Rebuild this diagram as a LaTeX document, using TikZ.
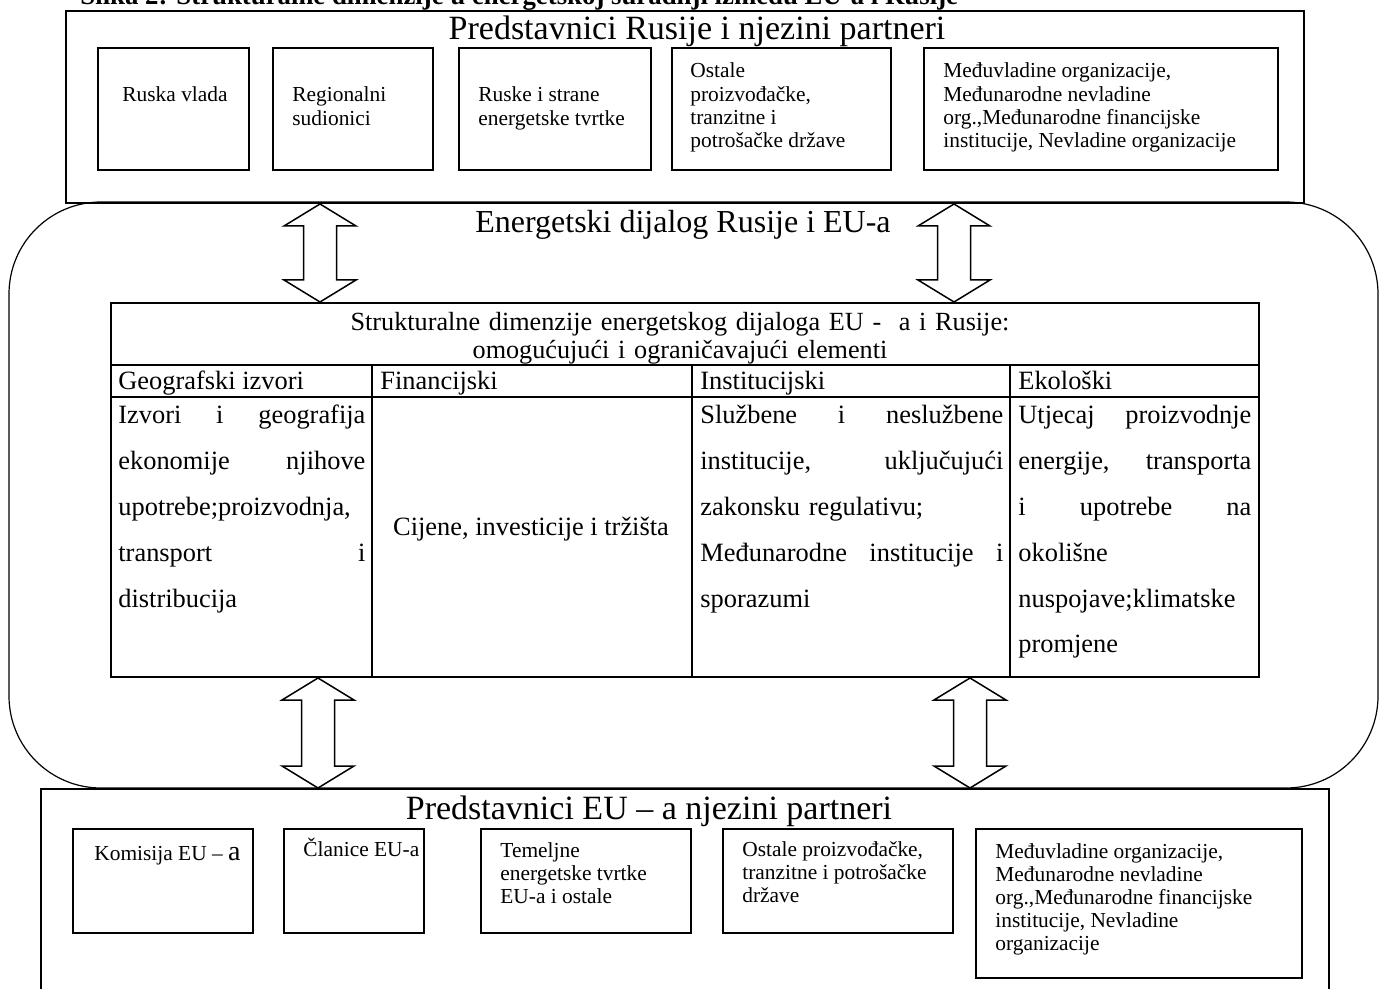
\documentclass[tikz,border=0pt]{standalone}
\usepackage{fontspec}
\setmainfont{Liberation Serif}
\usetikzlibrary{positioning, calc}

% double block arrow between two stacked nodes, at a given x
\newcommand{\blockarrow}[3]{%
  \draw[barrow] (#1,0 |- #2.south) coordinate (t) -- ++(36,22) -- ++(-19.5,0)
    -- ($(#1,0 |- #3.north)+(16.5,-22)$) -- ++(19.5,0) -- (#1,0 |- #3.north)
    -- ++(-36,-22) -- ++(19.5,0) -- ($(t)+(-16.5,22)$) -- ++(-19.5,0) -- cycle;}

\begin{document}
\begin{tikzpicture}[x=0.5pt, y=-0.5pt,
    frame/.style={draw, line width=1pt, inner sep=0pt, anchor=north west},
    actor/.style={draw, line width=0.9pt, inner sep=0pt, anchor=north west},
    small/.style={inner sep=0pt, anchor=base west, align=flush left, text width=200pt,
        font=\fontsize{10.7}{11.6}\selectfont},
    big/.style={inner sep=0pt, anchor=base, font=\fontsize{17}{20}\selectfont},
    cell/.style={inner sep=0pt, anchor=base west, align=left, font=\fontsize{13.2}{23}\selectfont},
    barrow/.style={draw, line width=0.75pt, line join=miter}]
\useasboundingbox (0,0) rectangle (1381,989);

% caption, cut off by the page edge
\node[inner sep=0pt, anchor=base west, font=\bfseries\fontsize{13.4}{15}\selectfont] (cap) at (80,5)
    {Slika 2: Strukturalne dimenzije u energetskoj suradnji između EU-a i Rusije};

% dialogue frame (big rounded box)
\draw[line width=0.6pt, rounded corners=46pt] (9,202) rectangle (1378,788);

% Russian side
\node[frame, minimum width=619pt, minimum height=96pt] (rus) at (65,10) {};
\node[big] (rustitle) at (697,40) {Predstavnici Rusije i njezini partneri};
\node[actor, minimum width=75.5pt, minimum height=61pt] (rv) at (97,47) {};
\node[actor, minimum width=80pt, minimum height=61pt] (rs) at (272,47) {};
\node[actor, minimum width=96pt, minimum height=61pt] (rt) at (458,47) {};
\node[actor, minimum width=109.5pt, minimum height=61pt] (ro) at (671,47) {};
\node[actor, minimum width=177pt, minimum height=61pt] (rm) at (923,47) {};
\node[small] at (122,102) {Ruska vlada};
\node[small] at (292,102) {Regionalni\\sudionici};
\node[small] at (478,102) {Ruske i strane\\energetske tvrtke};
\node[small] at (690,78) {Ostale\\proizvođačke,\\tranzitne i\\potrošačke države};
\node[small] at (943,78) {Međuvladine organizacije,\\Međunarodne nevladine\\org.,Međunarodne financijske\\institucije, Nevladine organizacije};

\node[big, font=\fontsize{16}{19}\selectfont] (dialog) at (683,233) {Energetski dijalog Rusije i EU-a};

% table of dimensions
\node[frame, minimum width=574pt, minimum height=187pt] (tab) at (110,302) {};
\draw[line width=1pt] (110,365) -- (1258,365);
\draw[line width=0.8pt] (110,397) -- (1258,397);
\foreach \x in {372,692,1010}
    \draw[line width=0.8pt] (\x,365) -- (\x,676);
\node[cell, anchor=base, align=center, text width=574pt, font=\fontsize{13.1}{14}\selectfont] (tabhead) at (680,331)
    {Strukturalne dimenzije energetskog dijaloga EU -~~a i Rusije:\\omogućujući i ograničavajući elementi};
\node[cell] (hgeo) at (118,390) {Geografski izvori};
\node[cell] (hfin) at (380,390) {Financijski};
\node[cell] (hins) at (700,390) {Institucijski};
\node[cell] (heko) at (1018,390) {Ekološki};
\node[cell, text width=123.5pt] (geo) at (118,423)
    {Izvori\hfill i\hfill geografija\\ekonomije\hfill njihove\\upotrebe;proizvodnja,\\transport\hfill i\\distribucija};
\node[cell, anchor=base] (fin) at (531,535) {Cijene, investicije i tržišta};
\node[cell, text width=151.5pt] (ins) at (700,423)
    {Službene\hfill i\hfill neslužbene\\institucije,\hfill uključujući\\zakonsku regulativu;\\Međunarodne\hfill institucije\hfill i\\sporazumi};
\node[cell, text width=116.5pt] (eko) at (1018,423)
    {Utjecaj\hfill proizvodnje\\energije,\hfill transporta\\i\hfill upotrebe\hfill na\\okolišne\\nuspojave;klimatske\\promjene};

% EU side
\node[frame, minimum width=644pt, minimum height=115pt] (eu) at (40,788) {};
\node[big] (eutitle) at (649,819) {Predstavnici EU – a njezini partneri};
\node[actor, minimum width=90pt, minimum height=52pt] (ek) at (72,828) {};
\node[actor, minimum width=70pt, minimum height=52pt] (ec) at (283,828) {};
\node[actor, minimum width=105pt, minimum height=52pt] (et) at (480,828) {};
\node[actor, minimum width=115pt, minimum height=52pt] (eo) at (722,828) {};
\node[actor, minimum width=163pt, minimum height=74.5pt] (em) at (975,828) {};
\node[small] at (94,860) {Komisija EU – {\fontsize{14}{14}\selectfont a}};
\node[small] at (303,856) {Članice EU-a};
\node[small] at (500,857) {Temeljne\\energetske tvrtke\\EU-a i ostale};
\node[small] at (742,856) {Ostale proizvođačke,\\tranzitne i potrošačke\\države};
\node[small] at (995,858) {Međuvladine organizacije,\\Međunarodne nevladine\\org.,Međunarodne financijske\\institucije, Nevladine\\organizacije};

% block arrows between the levels
\blockarrow{320}{rus}{tab}
\blockarrow{954}{rus}{tab}
\blockarrow{318}{tab}{eu}
\blockarrow{970}{tab}{eu}
\end{tikzpicture}
\end{document}
